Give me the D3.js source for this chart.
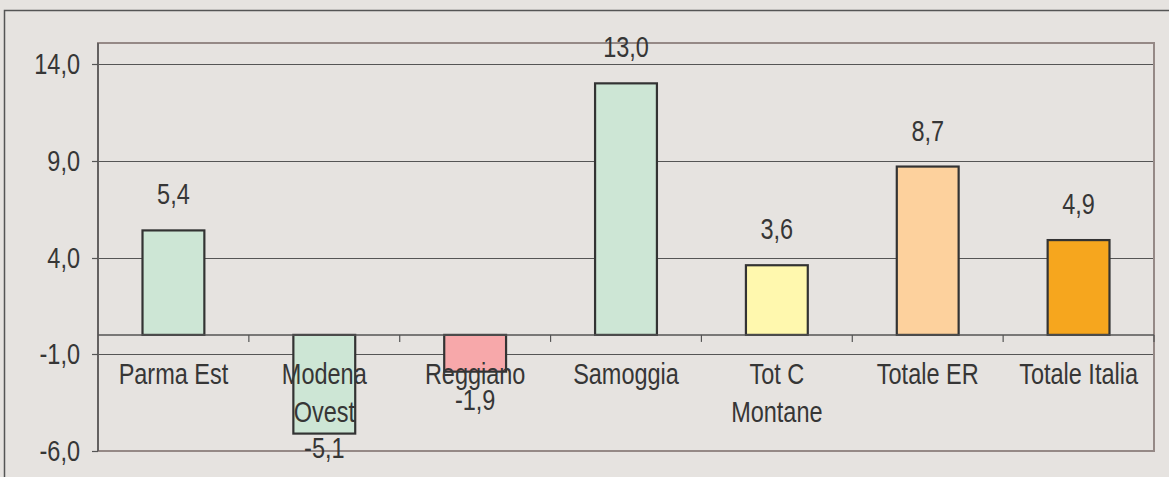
<!DOCTYPE html>
<html>
<head>
<meta charset="utf-8">
<script src="https://cdn.jsdelivr.net/npm/d3@7"></script>
<style>
  html, body { margin: 0; padding: 0; background: #e6e3e0; }
  svg text { font-family: "Liberation Sans", Arial, sans-serif; fill: #363636; }
</style>
</head>
<body>
<div id="chart"></div>
<script>
// data
const categories = [["Parma Est"], ["Modena", "Ovest"], ["Reggiano"], ["Samoggia"], ["Tot C", "Montane"], ["Totale ER"], ["Totale Italia"]];
const values = [5.4, -5.1, -1.9, 13.0, 3.6, 8.7, 4.9];
const barColors = ["#cde6d5", "#cde6d5", "#f7a8aa", "#cde6d5", "#fff8ae", "#fdd19d", "#f6a61e"];
const yTicks = [-6, -1, 4, 9, 14];

const width = 1169, height = 477;
const plot = { left: 98, right: 1154, top: 43, bottom: 451 };
const fontSize = 29;
const squeeze = 0.81; // text in the picture is narrow

const fmt = v => v.toFixed(1).replace(".", ",");

const svg = d3.select("#chart").append("svg").attr("width", width).attr("height", height);

// outer frame
svg.append("rect").attr("x", 0).attr("y", 0).attr("width", width).attr("height", height).attr("fill", "#e6e3e0");
svg.append("path").attr("d", `M4.5,${height} V10.5 H${width}`).attr("fill", "none").attr("stroke", "#555").attr("stroke-width", 1.5);

const y = d3.scaleLinear().domain([-6, 14]).range([451, 64]);
const x = d3.scaleBand().domain(d3.range(categories.length)).range([plot.left, plot.right]).paddingInner(0.59).paddingOuter(0.295);
const band = d3.scaleBand().domain(d3.range(categories.length)).range([plot.left, plot.right]);

function label(g, px, py, txt, anchor) {
  g.append("text")
    .attr("transform", `translate(${px},${py}) scale(${squeeze},1)`)
    .attr("text-anchor", anchor || "middle")
    .attr("font-size", fontSize)
    .text(txt);
}

// gridlines
svg.append("g").selectAll("line").data(yTicks.filter(t => t !== -6)).enter().append("line")
  .attr("x1", plot.left).attr("x2", plot.right)
  .attr("y1", d => Math.round(y(d)) + 0.5).attr("y2", d => Math.round(y(d)) + 0.5)
  .attr("stroke", "#555").attr("stroke-width", 1.2);

// plot frame
svg.append("rect").attr("x", plot.left).attr("y", plot.top)
  .attr("width", plot.right - plot.left).attr("height", plot.bottom - plot.top)
  .attr("fill", "none").attr("stroke", "#958986").attr("stroke-width", 2);

// y axis
const yAxis = svg.append("g");
yAxis.append("line").attr("x1", plot.left).attr("x2", plot.left).attr("y1", plot.top).attr("y2", plot.bottom)
  .attr("stroke", "#555").attr("stroke-width", 1.5);
yTicks.forEach(t => {
  yAxis.append("line").attr("x1", plot.left - 6).attr("x2", plot.left)
    .attr("y1", Math.round(y(t)) + 0.5).attr("y2", Math.round(y(t)) + 0.5)
    .attr("stroke", "#555").attr("stroke-width", 1.2);
  label(yAxis, 80, y(t) + 10, fmt(t), "end");
});

// bars
const bars = svg.append("g");
bars.selectAll("rect").data(values).enter().append("rect")
  .attr("x", (d, i) => x(i))
  .attr("width", x.bandwidth())
  .attr("y", d => y(Math.max(0, d)))
  .attr("height", d => Math.abs(y(d) - y(0)))
  .attr("fill", (d, i) => barColors[i])
  .attr("stroke", "#333").attr("stroke-width", 2.2);

// category axis at zero
const cx = svg.append("g");
cx.append("line").attr("x1", plot.left).attr("x2", plot.right).attr("y1", y(0)).attr("y2", y(0))
  .attr("stroke", "#555").attr("stroke-width", 1.5);
d3.range(1, categories.length + 1).forEach(i => {
  const bx = plot.left + i * band.bandwidth();
  cx.append("line").attr("x1", bx).attr("x2", bx).attr("y1", y(0)).attr("y2", y(0) + 7)
    .attr("stroke", "#555").attr("stroke-width", 1.2);
});

const catBase = 384, lineGap = 38;
categories.forEach((lines, i) => {
  const mx = band(i) + band.bandwidth() / 2;
  lines.forEach((ln, k) => label(cx, mx, catBase + k * lineGap, ln));
});

// value labels
const vl = svg.append("g");
values.forEach((v, i) => {
  const mx = x(i) + x.bandwidth() / 2;
  if (v >= 0) {
    label(vl, mx, y(v) - 26, fmt(v));
  } else {
    label(vl, mx, Math.max(y(v) + 24, catBase + 26), fmt(v));
  }
});
</script>
</body>
</html>
